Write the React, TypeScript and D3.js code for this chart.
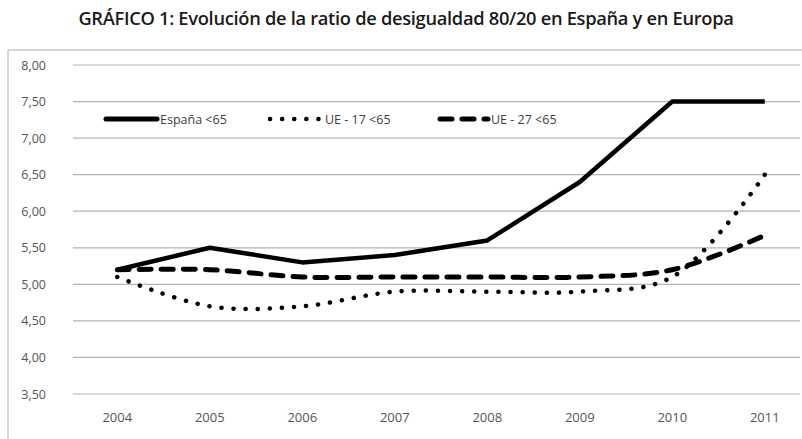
import * as d3 from 'd3';

const YEARS = ['2004', '2005', '2006', '2007', '2008', '2009', '2010', '2011'];
const ESPANA = [5.2, 5.5, 5.3, 5.4, 5.6, 6.4, 7.5, 7.5];
const UE17 = [5.1, 4.7, 4.7, 4.9, 4.9, 4.9, 5.1, 6.5];
const UE27 = [5.2, 5.2, 5.1, 5.1, 5.1, 5.1, 5.2, 5.67];
const Y_TICKS = [3.5, 4, 4.5, 5, 5.5, 6, 6.5, 7, 7.5, 8];

const WIDTH = 802;
const HEIGHT = 439;
const PLOT = { left: 71, right: 811, top: 65, bottom: 394 };
const FONT = 'Open Sans, sans-serif';

export default function App() {
    const x = d3.scalePoint<string>()
        .domain(YEARS)
        .range([PLOT.left, PLOT.right])
        .padding(0.5);
    const y = d3.scaleLinear().domain([3.5, 8]).range([PLOT.bottom, PLOT.top]);

    const straight = d3.line<number>()
        .x((_, i) => x(YEARS[i])!)
        .y((d) => y(d));
    const smooth = d3.line<number>()
        .x((_, i) => x(YEARS[i])!)
        .y((d) => y(d))
        .curve(d3.curveCatmullRom.alpha(0.5));

    const fmt = (v: number) => v.toFixed(2).replace('.', ',');

    return (
        <svg width={WIDTH} height={HEIGHT}
             style={{ position: 'absolute', left: 0, top: 0, background: '#fff' }}>
            <text x={406} y={25} textAnchor="middle" fontFamily={FONT}
                  fontWeight={600} fontSize={18.3} fill="#1a1a1a" letterSpacing={-0.3}>
                GRÁFICO 1: Evolución de la ratio de desigualdad 80/20 en España y en Europa
            </text>
            {/* chart frame */}
            <line x1={8} x2={802} y1={50} y2={50} stroke="#c8c8c8" strokeWidth={1.5} />
            <line x1={8} x2={8} y1={50} y2={439} stroke="#c8c8c8" strokeWidth={1.5} />

            {Y_TICKS.map((t) => (
                <g key={t}>
                    <line x1={PLOT.left + 2} x2={800} y1={y(t)} y2={y(t)}
                          stroke="#b4b4b4" strokeWidth={1.2} />
                    <text x={46} y={y(t)} textAnchor="end" dominantBaseline="central"
                          fontFamily={FONT} fontSize={12.5} fill="#555">
                        {fmt(t)}
                    </text>
                </g>
            ))}
            {YEARS.map((yr) => (
                <text key={yr} x={x(yr)} y={417} textAnchor="middle" dominantBaseline="central"
                      fontFamily={FONT} fontSize={13} fill="#555">
                    {yr}
                </text>
            ))}

            <path d={smooth(UE27)!} fill="none" stroke="#000" strokeWidth={5}
                  strokeDasharray="12 10" strokeLinecap="round" />
            <path d={smooth(UE17)!} fill="none" stroke="#000" strokeWidth={4.5}
                  strokeDasharray="0.1 12" strokeLinecap="round" />
            <path d={straight(ESPANA)!} fill="none" stroke="#000" strokeWidth={4.5}
                  strokeLinejoin="round" />

            {/* legend */}
            <g fontFamily={FONT} fontSize={12.5} fill="#404040">
                <line x1={106} x2={157} y1={119} y2={119} stroke="#000" strokeWidth={5}
                      strokeLinecap="round" />
                <text x={160} y={119} dominantBaseline="central">España &lt;65</text>
                <line x1={270} x2={320} y1={119} y2={119} stroke="#000" strokeWidth={4.5}
                      strokeDasharray="0.1 12" strokeLinecap="round" />
                <text x={325} y={119} dominantBaseline="central">UE - 17 &lt;65</text>
                <line x1={440} x2={488} y1={119} y2={119} stroke="#000" strokeWidth={5}
                      strokeDasharray="12 10" strokeLinecap="round" />
                <text x={491} y={119} dominantBaseline="central">UE - 27 &lt;65</text>
            </g>
        </svg>
    );
}
